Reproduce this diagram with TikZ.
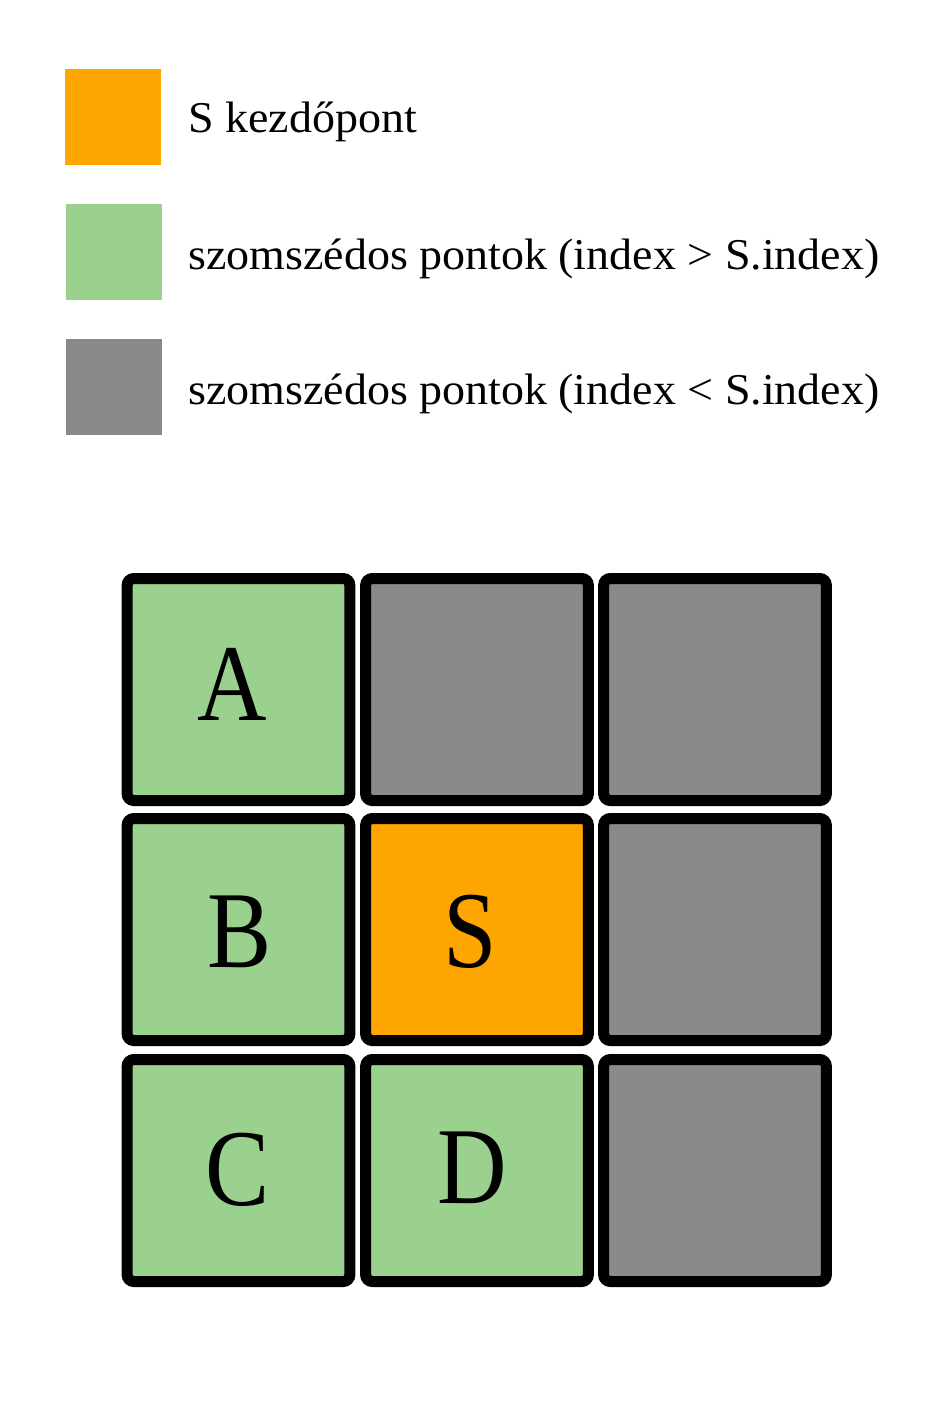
\documentclass[tikz,border=0pt]{standalone}
\usepackage{fontspec}
\setmainfont{Liberation Serif}
\definecolor{startor}{HTML}{FFA500}
\definecolor{nbgreen}{HTML}{9BD18F}
\definecolor{nbgray}{HTML}{8A8A8A}
\newcommand{\legwide}[1]{\scalebox{1.045}[1]{#1}}
\newcommand{\cellnarrow}[1]{\scalebox{0.88}[1]{#1}}
\begin{document}
\begin{tikzpicture}[x=0.75pt,y=-0.75pt,
  legbox/.style={draw=none,minimum width=72pt,minimum height=72pt,inner sep=0pt},
  legtext/.style={anchor=base west,inner sep=0pt,font=\fontsize{33}{38}\selectfont},
  cell/.style={draw=black,line width=8.25pt,rounded corners=5pt,minimum width=167pt,minimum height=166.5pt,inner sep=0pt},
  celltext/.style={inner sep=0pt,font=\fontsize{82}{90}\selectfont},
]
\useasboundingbox (0,0) rectangle (950,1415);
\fill[white] (0,0) rectangle (950,1415);
% legend
\node[legbox,fill=startor] (l1) at (112.5,117) {};
\node[legbox,fill=nbgreen] (l2) at (114,252) {};
\node[legbox,fill=nbgray] (l3) at (114,387) {};
\node[legtext] (t1) at (188,132) {\legwide{S kezdőpont}};
\node[legtext] (t2) at (188,269) {\legwide{szomszédos pontok (index > S.index)}};
\node[legtext] (t3) at (188,404) {\legwide{szomszédos pontok (index < S.index)}};
% grid
\node[cell,fill=nbgreen] (A) at (238.5,689.5) {};
\node[cell,fill=nbgray] (g12) at (477,689.5) {};
\node[cell,fill=nbgray] (g13) at (715,689.5) {};
\node[cell,fill=nbgreen] (B) at (238.5,929.5) {};
\node[cell,fill=startor] (S) at (477,929.5) {};
\node[cell,fill=nbgray] (g23) at (715,929.5) {};
\node[cell,fill=nbgreen] (C) at (238.5,1170.5) {};
\node[cell,fill=nbgreen] (D) at (477,1170.5) {};
\node[cell,fill=nbgray] (g33) at (715,1170.5) {};
\node[celltext] (tA) at (232,684) {\cellnarrow{A}};
\node[celltext] (tB) at (240,932) {\cellnarrow{B}};
\node[celltext] (tS) at (470,932) {\cellnarrow{S}};
\node[celltext] (tC) at (238,1170) {\cellnarrow{C}};
\node[celltext] (tD) at (472,1168) {\cellnarrow{D}};
\end{tikzpicture}
\end{document}
